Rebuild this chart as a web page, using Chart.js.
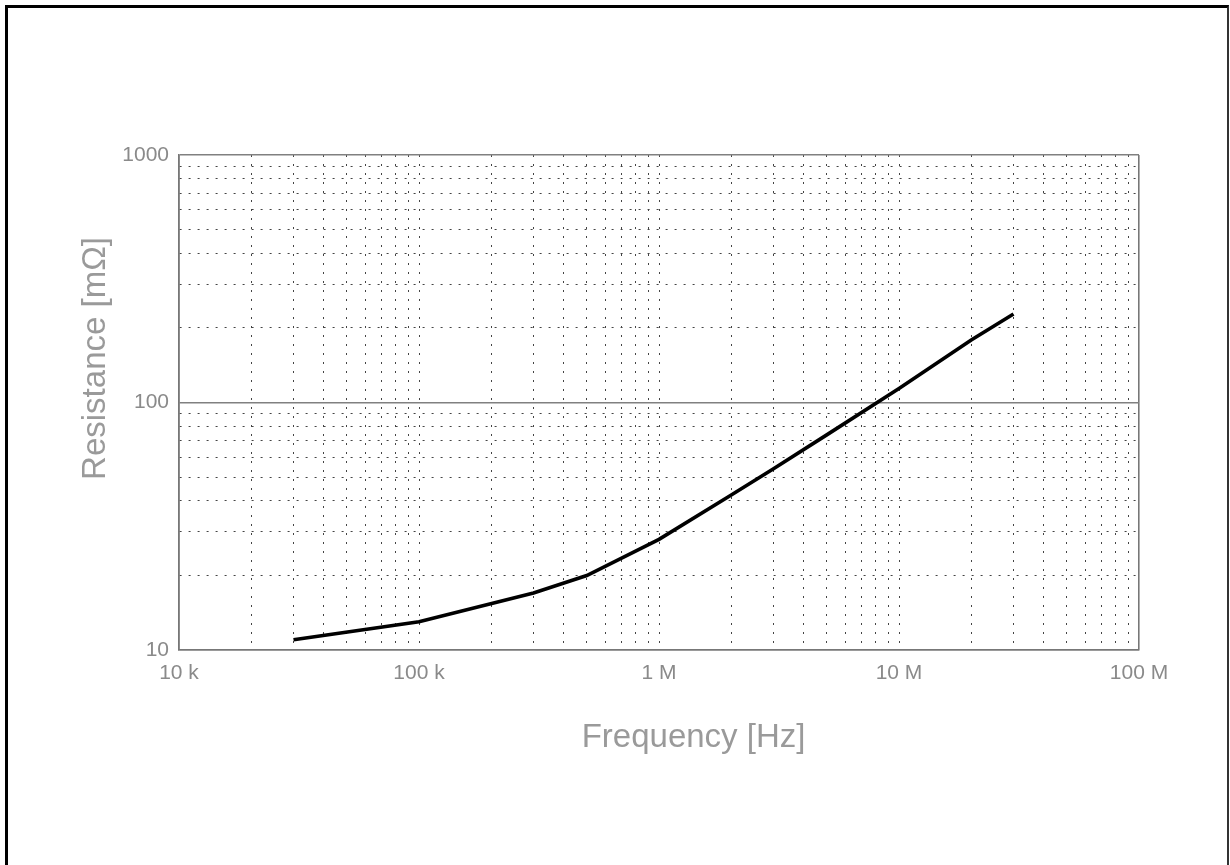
<!DOCTYPE html>
<html>
<head>
<meta charset="utf-8">
<script src="https://cdn.jsdelivr.net/npm/chart.js@4/dist/chart.umd.min.js"></script>
<style>
  html, body { margin: 0; padding: 0; background: #fff; width: 1230px; height: 865px; overflow: hidden; }
  #wrap { position: absolute; left: 0; top: 0; width: 1230px; height: 865px; }
  #frame { position: absolute; left: 5px; top: 5px; width: 1224px; height: 900px;
           border-left: 3px solid #000; border-top: 3px solid #000; border-right: 2px solid #333;
           pointer-events: none; box-sizing: border-box; }
</style>
</head>
<body>
<div id="wrap">
  <canvas id="c" width="1230" height="865"></canvas>
  <div id="frame"></div>
</div>
<script>
// ---- data ----
const frequencies = [3e4, 1e5, 3e5, 5e5, 1e6, 2e6, 3e6, 5e6, 1e7, 2e7, 3e7];
const resistance  = [11, 13, 17, 20, 28, 42.3, 54, 74, 114, 179, 228];

const xMajorTicks = [1e4, 1e5, 1e6, 1e7, 1e8];
const xTickLabels = ['10 k', '100 k', '1 M', '10 M', '100 M'];
const yMajorTicks = [10, 100, 1000];
const yTickLabels = ['10', '100', '1000'];
const minorMultipliers = [1, 2, 3, 4, 5, 6, 7, 8, 9];

const xTitle = 'Frequency [Hz]';
const yTitle = 'Resistance [m\u03A9]';

function gridValues(majors) {
  const vals = [];
  for (let i = 0; i < majors.length; i++) {
    if (i === majors.length - 1) { vals.push(majors[i]); break; }
    for (const m of minorMultipliers) vals.push(majors[i] * m);
  }
  return vals;
}
function isMajor(v, majors) {
  return majors.some(m => Math.abs(v - m) / m < 1e-9);
}
function labelFor(v, majors, labels) {
  for (let i = 0; i < majors.length; i++) if (Math.abs(v - majors[i]) / majors[i] < 1e-9) return labels[i];
  return '';
}

const FONT = "'Liberation Sans', Arial, sans-serif";
const TXT = '#8a8a8a';

const titlesPlugin = {
  id: 'axisTitles',
  afterDraw(chart) {
    const {ctx, chartArea: a} = chart;
    ctx.save();
    ctx.fillStyle = '#9a9a9a';
    ctx.font = "33px " + FONT;
    ctx.textAlign = 'center';
    ctx.textBaseline = 'middle';
    ctx.fillText(xTitle, a.left + (a.right - a.left) * 0.536, a.bottom + 88);
    ctx.translate(a.left - 83, a.top + (a.bottom - a.top) * 0.411);
    ctx.rotate(-Math.PI / 2);
    ctx.fillText(yTitle, 0, 0);
    ctx.restore();
  }
};

new Chart(document.getElementById('c'), {
  type: 'line',
  data: {
    datasets: [{
      data: frequencies.map((f, i) => ({x: f, y: resistance[i]})),
      borderColor: '#000',
      borderWidth: 3.6,
      pointRadius: 0,
      fill: false,
      tension: 0
    }]
  },
  options: {
    responsive: false,
    animation: false,
    devicePixelRatio: 1,
    layout: { padding: { top: 155, right: 91, left: 0, bottom: 0 } },
    plugins: { legend: { display: false }, tooltip: { enabled: false }, title: { display: false } },
    scales: {
      x: {
        type: 'logarithmic',
        min: 1e4, max: 1e8,
        afterBuildTicks(scale) { scale.ticks = gridValues(xMajorTicks).map(v => ({value: v})); },
        afterFit(scale) { scale.height = 215; },
        ticks: {
          autoSkip: false, maxRotation: 0, padding: 11,
          color: TXT, font: { family: FONT, size: 21 },
          callback: (v) => labelFor(v, xMajorTicks, xTickLabels)
        },
        grid: {
          drawTicks: false,
          color: (ctx) => (ctx.tick && (ctx.tick.value === 1e4 || ctx.tick.value === 1e8)) ? '#777' : '#444',
          lineWidth: (ctx) => (ctx.tick && (ctx.tick.value === 1e4 || ctx.tick.value === 1e8)) ? 1.6 : 1
        },
        border: {
          display: true, color: '#777', width: 1.6,
          dash: (ctx) => (ctx.tick && (ctx.tick.value === 1e4 || ctx.tick.value === 1e8)) ? [] : [2, 7]
        }
      },
      y: {
        type: 'logarithmic',
        min: 10, max: 1000,
        afterBuildTicks(scale) { scale.ticks = gridValues(yMajorTicks).map(v => ({value: v})); },
        afterFit(scale) { scale.width = 179; },
        ticks: {
          autoSkip: false, padding: 10,
          color: TXT, font: { family: FONT, size: 21 },
          callback: (v) => labelFor(v, yMajorTicks, yTickLabels)
        },
        grid: {
          drawTicks: false,
          color: (ctx) => (ctx.tick && isMajor(ctx.tick.value, yMajorTicks)) ? '#808080' : '#444',
          lineWidth: (ctx) => (ctx.tick && isMajor(ctx.tick.value, yMajorTicks)) ? 1.6 : 1
        },
        border: {
          display: true, color: '#777', width: 1.6,
          dash: (ctx) => (ctx.tick && isMajor(ctx.tick.value, yMajorTicks)) ? [] : [2, 7]
        }
      }
    }
  },
  plugins: [titlesPlugin]
});
</script>
</body>
</html>
